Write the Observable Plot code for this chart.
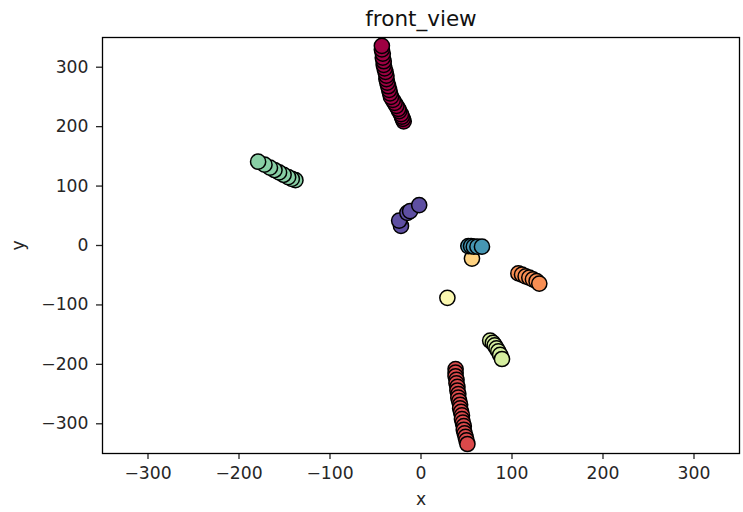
<!DOCTYPE html>
<html>
<head>
<meta charset="utf-8">
<script src="https://cdn.jsdelivr.net/npm/d3@7"></script>
<script src="https://cdn.jsdelivr.net/npm/@observablehq/plot@0.6"></script>
<style>
  html, body { margin: 0; padding: 0; background: #fff; }
  #chart svg { display: block; }
</style>
</head>
<body>
<div id="chart"></div>
<script>
// Point groups of the front view, each as [x, y] pairs; outermost point last.
const group0 = [[-19,209],[-20,213],[-21,217],[-22,221],[-24,226],[-25,230],[-27,235],[-29,240],[-31,245],[-33,250],[-34,256],[-35,262],[-36,268],[-37,274],[-38,280],[-38,286],[-39,292],[-40,298],[-41,304],[-41,310],[-42,316],[-42,323],[-43,330],[-43,336]];
const group1 = [[38,-208],[38,-214],[38,-220],[39,-226],[39,-232],[40,-238],[40,-244],[41,-250],[41,-256],[42,-262],[43,-268],[43,-274],[44,-280],[45,-286],[45,-292],[46,-298],[47,-304],[47,-310],[48,-316],[49,-322],[50,-328],[51,-334]];
const group2 = [[107,-47],[111,-49],[115,-52],[119,-54],[123,-57],[127,-60],[130,-64]];
const group3 = [[56,-22]];
const group4 = [[29,-88]];
const group5 = [[76,-160],[79,-164],[81,-168],[83,-173],[85,-178],[87,-184],[89,-191]];
const group6 = [[-138,110],[-142,112],[-146,115],[-151,119],[-156,123],[-161,127],[-166,131],[-172,136],[-179,141]];
const group7 = [[52,-1],[55,-1],[58,-2],[62,-2],[67,-2]];
const group8 = [[-22,33],[-24,42],[-15,55],[-12,58],[-2,68]];

// Drawing order of the groups and their colour index on the Spectral scheme.
const groups = [group0, group1, group2, group3, group4, group5, group6, group8, group7];
const groupLabels = [0, 1, 2, 3, 4, 5, 6, 8, 7];

const xTicks = [-300, -200, -100, 0, 100, 200, 300];
const yTicks = [-300, -200, -100, 0, 100, 200, 300];
const titleText = "front_view";
const xLabel = "x";
const yLabel = "y";

const points = groups.flatMap((g, i) => g.map(([x, y]) => ({x, y, label: groupLabels[i]})));

const fmt = d => d < 0 ? "\u2212" + Math.abs(d) : String(d);
const font = "DejaVu Sans, sans-serif";

const chart = Plot.plot({
  width: 743,
  height: 512,
  marginLeft: 102,
  marginRight: 4,
  marginTop: 37,
  marginBottom: 59,
  style: {fontFamily: font, color: "#262626", background: "#fff"},
  x: {domain: [-350, 350], label: null},
  y: {domain: [-350, 350], label: null},
  color: {type: "linear", scheme: "spectral", domain: [0, 8]},
  marks: [
    Plot.axisX({ticks: xTicks, tickFormat: fmt, tickSize: 6, tickPadding: 7, fontSize: 17.2, label: null, strokeWidth: 1.3}),
    Plot.axisY({ticks: yTicks, tickFormat: fmt, tickSize: 6, tickPadding: 8, fontSize: 17.2, label: null, strokeWidth: 1.3}),
    Plot.dot(points, {x: "x", y: "y", fill: "label", r: 7.6, stroke: "#000", strokeWidth: 1.5}),
    Plot.frame({stroke: "#000", strokeWidth: 1.3}),
    Plot.text([titleText], {frameAnchor: "top", lineAnchor: "middle", dy: -18, fontSize: 21.5, fill: "#111"}),
    Plot.text([xLabel], {frameAnchor: "bottom", lineAnchor: "middle", dy: 46, fontSize: 17.2, fill: "#262626"}),
    Plot.text([yLabel], {frameAnchor: "left", textAnchor: "middle", lineAnchor: "middle", dx: -84, rotate: -90, fontSize: 17.2, fill: "#262626"})
  ]
});

document.getElementById("chart").append(chart);
</script>
</body>
</html>
